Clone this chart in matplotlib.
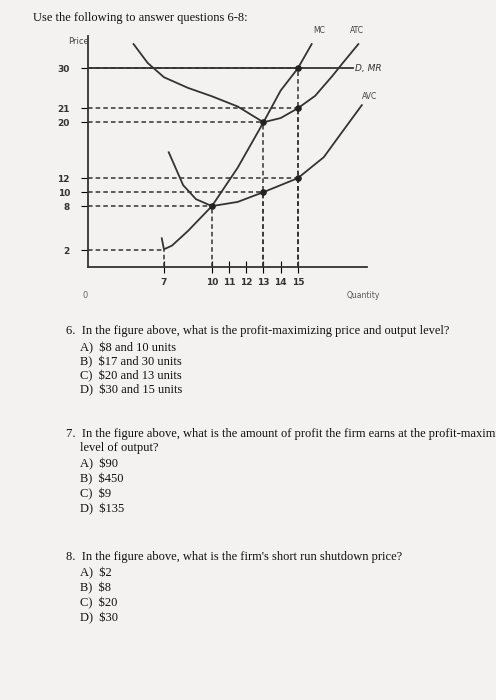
import numpy as np
import matplotlib
matplotlib.use("Agg")
import matplotlib.pyplot as plt

# data
mc_q = [6.8, 7.0, 7.5, 8.5, 10, 11.5, 13, 14, 15, 15.8]
mc_p = [3.6, 2.1, 2.6, 4.6, 8, 13.5, 20, 25, 30, 34.5]
atc_q = [4.2, 5.5, 7, 8.5, 10, 11.5, 13, 14, 15, 16, 17, 17.6, 18.5]
atc_p = [34.5, 31, 28, 25.6, 23.7, 21.4, 20, 20.3, 21, 23.8, 28.3, 31, 34.5]
avc_q = [7.3, 8.2, 9, 10, 11.5, 13, 15, 16.5, 17.5, 18.7]
avc_p = [15.7, 11, 9, 8, 8.6, 10, 12, 15, 18.4, 21.7]
price = 30
yticks = [2, 8, 10, 12, 20, 21, 30]
xticks = [7, 10, 11, 12, 13, 14, 15]
dots = [(10, 8), (13, 10), (13, 20), (15, 12), (15, 21), (15, 30)]

# piecewise scales mimicking the scanned drawing
xk_d = np.array([-5, 0, 7, 10, 15, 25.])
xk_p = np.array([88 - 54.5, 88, 164, 212, 298, 298 + 173.])
yk_d = np.array([-5, 0, 2, 8, 10, 12, 20, 21, 30, 40.])
yk_p = -np.array([317, 267, 250, 206, 192, 178, 122, 108, 68, 14.])
fx = lambda v: np.interp(v, xk_d, xk_p)
ix = lambda v: np.interp(v, xk_p, xk_d)
fy = lambda v: np.interp(v, yk_d, yk_p)
iy = lambda v: np.interp(v, yk_p, yk_d)

W, H = 496, 700
fig = plt.figure(figsize=(W / 100, H / 100), dpi=100)
fig.patch.set_facecolor("#f3f2f0")
ax = fig.add_axes([88 / W, (H - 267) / H, (367 - 88) / W, (267 - 36) / H])
ax.set_xscale("function", functions=(fx, ix))
ax.set_yscale("function", functions=(fy, iy))
ax.set_xlim(0, 19)
ax.set_ylim(0, 36)
ax.patch.set_alpha(0)
for s in ["top", "right"]:
    ax.spines[s].set_visible(False)
for s in ["left", "bottom"]:
    ax.spines[s].set_linewidth(1.3)
    ax.spines[s].set_color("#333")

c = "#333333"
ax.plot(mc_q, mc_p, color=c, lw=1.3)
ax.plot(atc_q, atc_p, color=c, lw=1.3)
ax.plot(avc_q, avc_p, color=c, lw=1.3)
ax.plot([0, 18.2], [price, price], color=c, lw=1.3)

dash = dict(color=c, lw=1.1, ls=(0, (3, 2)))
for (q, p) in dots:
    ax.plot([0, q], [p, p], **dash)
    ax.plot([q, q], [0, p], **dash)
ax.plot([0, 7], [2, 2], **dash)
ax.plot([7, 7], [0, 2], **dash)
ax.scatter([d[0] for d in dots], [d[1] for d in dots], s=14, color="#222", zorder=5)

ax.set_yticks(yticks)
ax.set_yticklabels([str(v) for v in yticks], fontsize=6.5, fontweight="bold", color="#333")
ax.set_xticks(xticks)
ax.set_xticklabels([str(v) for v in xticks], fontsize=6.5, fontweight="bold", color="#333")
ax.tick_params(axis="y", direction="out", length=5, pad=8)
ax.tick_params(axis="x", direction="inout", length=8, pad=4)

ax.text(-1.8, 34.5, "Price", fontsize=6, color="#444")
ax.text(-0.3, -3.1, "0", fontsize=6, color="#666", ha="center")
ax.text(17.8, -3.1, "Quantity", fontsize=5.5, color="#555")
ax.text(15.9, 36.5, "MC", fontsize=5.5, color="#444", clip_on=False)
ax.text(18.0, 36.5, "ATC", fontsize=5.5, color="#444", clip_on=False)
ax.text(18.3, 29.4, "D, MR", fontsize=6.5, color="#333", style="italic")
ax.text(18.7, 23.2, "AVC", fontsize=5.5, color="#444", clip_on=False)

serif = "Liberation Serif"
def t(x, y, s):
    fig.text(x / W, 1 - y / H, s, fontsize=9, family=serif, color="#111", va="center")

t(33, 18, "Use the following to answer questions 6-8:")
t(66, 331, "6.  In the figure above, what is the profit-maximizing price and output level?")
opts6 = ["A)  $8 and 10 units", "B)  $17 and 30 units", "C)  $20 and 13 units", "D)  $30 and 15 units"]
for i, s in enumerate(opts6):
    t(80, 348 + i * 14, s)
t(66, 434, "7.  In the figure above, what is the amount of profit the firm earns at the profit-maximizing")
t(80, 448, "level of output?")
opts7 = ["A)  $90", "B)  $450", "C)  $9", "D)  $135"]
for i, s in enumerate(opts7):
    t(80, 464 + i * 15, s)
t(66, 557, "8.  In the figure above, what is the firm's short run shutdown price?")
opts8 = ["A)  $2", "B)  $8", "C)  $20", "D)  $30"]
for i, s in enumerate(opts8):
    t(80, 573 + i * 15, s)

fig.savefig("out.png", dpi=100, facecolor=fig.get_facecolor())
